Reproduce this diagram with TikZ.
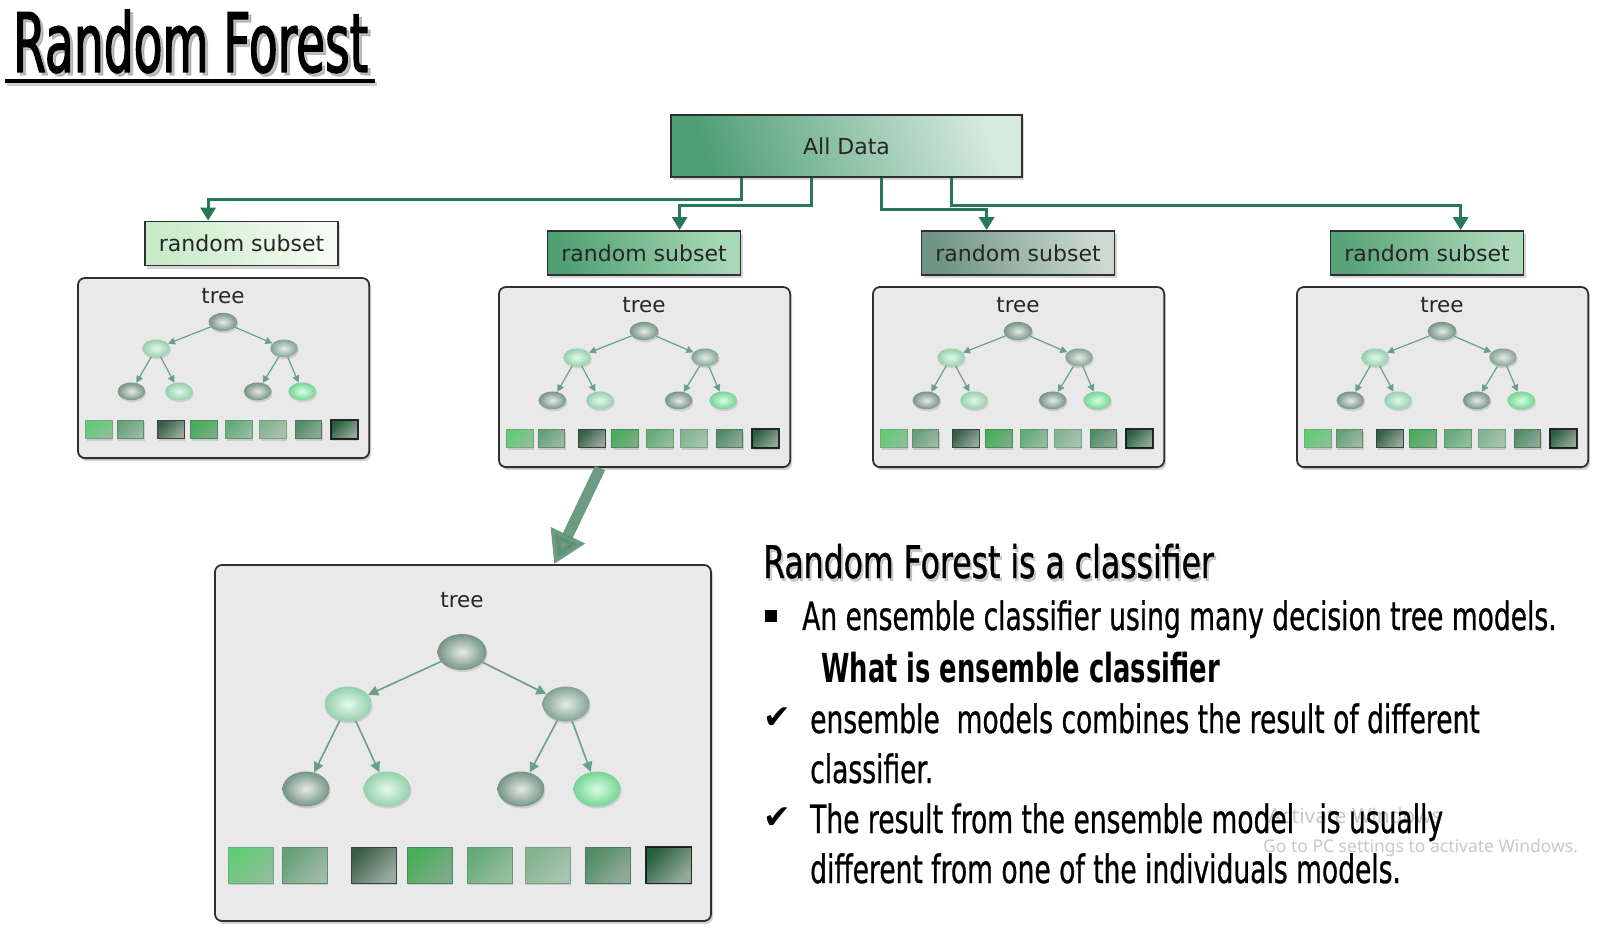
\documentclass[tikz,border=0pt]{standalone}
\usepackage{fontspec}
\setmainfont{DejaVu Sans}
\newfontfamily\agencyT[FakeStretch=0.575,FakeBold=1.5]{DejaVu Sans}
\newfontfamily\agencyH[FakeStretch=0.70,FakeBold=0.8]{DejaVu Sans}
\newfontfamily\agencyB[FakeStretch=0.68,FakeBold=0.7]{DejaVu Sans}
\newfontfamily\agencyBB[FakeStretch=0.645]{DejaVu Sans}
\newfontfamily\winfont{Noto Sans}
\usetikzlibrary{arrows.meta,shapes.geometric,shadows}

\definecolor{conngreen}{RGB}{38,120,86}
\definecolor{adDark}{RGB}{78,158,118}
\definecolor{adLight}{RGB}{214,234,221}
\definecolor{saD}{RGB}{200,235,200}\definecolor{saL}{RGB}{246,251,243}
\definecolor{sbD}{RGB}{80,160,115}\definecolor{sbL}{RGB}{168,216,183}
\definecolor{scD}{RGB}{112,148,132}\definecolor{scL}{RGB}{203,217,209}
\definecolor{sdD}{RGB}{88,164,120}\definecolor{sdL}{RGB}{172,216,186}
\definecolor{boxborder}{RGB}{45,50,48}
\definecolor{panelfill}{RGB}{233,233,233}
\definecolor{edgecol}{RGB}{105,160,138}
\definecolor{bigarrowcol}{RGB}{95,145,118}
\definecolor{wmark}{RGB}{200,200,200}
% balls
\definecolor{bGrayO}{RGB}{118,148,133}\definecolor{bGrayI}{RGB}{228,234,230}
\definecolor{bPaleO}{RGB}{148,208,172}\definecolor{bPaleI}{RGB}{228,249,236}
\definecolor{bMidO}{RGB}{132,163,148}\definecolor{bMidI}{RGB}{226,236,231}
\definecolor{bBrightO}{RGB}{118,212,148}\definecolor{bBrightI}{RGB}{214,255,226}
% squares
\definecolor{qa1}{RGB}{95,205,115}\definecolor{qb1}{RGB}{145,190,155}\definecolor{qd1}{RGB}{110,170,125}
\definecolor{qa2}{RGB}{100,160,120}\definecolor{qb2}{RGB}{160,185,168}\definecolor{qd2}{RGB}{95,140,110}
\definecolor{qa3}{RGB}{55,95,70}\definecolor{qb3}{RGB}{155,170,160}\definecolor{qd3}{RGB}{50,70,60}
\definecolor{qa4}{RGB}{70,175,90}\definecolor{qb4}{RGB}{125,170,135}\definecolor{qd4}{RGB}{70,140,90}
\definecolor{qa5}{RGB}{100,170,120}\definecolor{qb5}{RGB}{150,190,160}\definecolor{qd5}{RGB}{100,150,115}
\definecolor{qa6}{RGB}{130,180,145}\definecolor{qb6}{RGB}{170,195,175}\definecolor{qd6}{RGB}{120,160,135}
\definecolor{qa7}{RGB}{80,140,100}\definecolor{qb7}{RGB}{145,170,155}\definecolor{qd7}{RGB}{80,120,95}
\definecolor{qa8}{RGB}{40,95,60}\definecolor{qb8}{RGB}{150,170,155}\definecolor{qd8}{RGB}{20,30,25}

\tikzset{
  softshadow/.style={drop shadow={shadow xshift=2pt,shadow yshift=-3pt,opacity=0.28,fill=black!60}},
  databox/.style={draw=boxborder,line width=2pt,softshadow,
    top color=adLight,bottom color=adDark,shading angle=-70,
    minimum width=351pt,minimum height=62pt,inner sep=0pt,
    font=\fontsize{22}{26}\selectfont,text=black!85},
  subsetbox/.style={draw=boxborder,line width=1.8pt,softshadow,
    minimum width=193pt,minimum height=44pt,inner sep=0pt,
    font=\fontsize{22}{26}\selectfont,text=black!85},
  conn/.style={draw=conngreen,line width=3pt,-{Triangle[length=13pt,width=15pt]}},
  treebox/.style={draw=boxborder,line width=1.8pt,rounded corners=7pt,fill=panelfill,softshadow,inner sep=0pt},
  treelabel/.style={font=\fontsize{21.5}{24}\selectfont,text=black!85,inner sep=0pt},
  tnode/.style={ellipse,inner sep=0pt,drop shadow={shadow xshift=1pt,shadow yshift=-2pt,opacity=0.25}},
  ballgray/.style={inner color=bGrayI,outer color=bGrayO},
  ballpale/.style={inner color=bPaleI,outer color=bPaleO},
  ballmid/.style={inner color=bMidI,outer color=bMidO},
  ballbright/.style={inner color=bBrightI,outer color=bBrightO},
  edgeB/.style={draw=edgecol,line width=1.6pt,-{Triangle[length=10pt,width=10pt]}},
  edgeS/.style={draw=edgecol,line width=1.2pt,-{Triangle[length=7pt,width=7pt]}},
  sq/.style={inner sep=0pt,line width=1pt,drop shadow={shadow xshift=1pt,shadow yshift=-2pt,opacity=0.3}},
  bigarrow/.style={draw=bigarrowcol,opacity=0.9,line width=11pt,-{Triangle[length=32pt,width=36pt]}},
  agT/.style={font=\agencyT\fontsize{82}{90}\selectfont,anchor=base west,inner sep=0pt},
  agH/.style={font=\agencyH\fontsize{45}{50}\selectfont,anchor=base west,inner sep=0pt},
  agB/.style={font=\agencyB\fontsize{39}{46}\selectfont,anchor=base west,inner sep=0pt},
  agBB/.style={font=\agencyBB\bfseries\fontsize{40}{46}\selectfont,anchor=base west,inner sep=0pt},
  checkmk/.style={font=\fontsize{33}{36}\selectfont,anchor=base west,inner sep=0pt},
  wm/.style={font=\winfont,text=wmark,anchor=base west,inner sep=0pt}
}

% #1 name, #2 x, #3 y (top-left), #4 sx, #5 sy, #6 edge style
\newcommand{\treepanel}[6]{%
  \node[treebox,minimum width={496pt*#4},minimum height={356pt*#5}] (#1) at ({#2+248*#4},{#3+178*#5}) {};
  \node[treelabel] (#1-lab) at ({#2+247*#4},{#3+35*#5}) {tree};
  \node[tnode,ballgray,minimum width={49pt*#4},minimum height={36pt*#5}] (#1-r) at ({#2+247*#4},{#3+87*#5}) {};
  \node[tnode,ballpale,minimum width={47pt*#4},minimum height={35pt*#5}] (#1-a) at ({#2+133*#4},{#3+139*#5}) {};
  \node[tnode,ballmid,minimum width={47pt*#4},minimum height={35pt*#5}] (#1-b) at ({#2+351*#4},{#3+139*#5}) {};
  \node[tnode,ballgray,minimum width={47pt*#4},minimum height={35pt*#5}] (#1-c) at ({#2+91*#4},{#3+224*#5}) {};
  \node[tnode,ballpale,minimum width={47pt*#4},minimum height={35pt*#5}] (#1-d) at ({#2+172*#4},{#3+224*#5}) {};
  \node[tnode,ballgray,minimum width={47pt*#4},minimum height={35pt*#5}] (#1-e) at ({#2+306*#4},{#3+224*#5}) {};
  \node[tnode,ballbright,minimum width={47pt*#4},minimum height={35pt*#5}] (#1-f) at ({#2+382*#4},{#3+224*#5}) {};
  \draw[#6] (#1-r) -- (#1-a);
  \draw[#6] (#1-r) -- (#1-b);
  \draw[#6] (#1-a) -- (#1-c);
  \draw[#6] (#1-a) -- (#1-d);
  \draw[#6] (#1-b) -- (#1-e);
  \draw[#6] (#1-b) -- (#1-f);
  \foreach \cx/\ca/\cb/\cd [count=\i] in {35.5/qa1/qb1/qd1,89.5/qa2/qb2/qd2,158.5/qa3/qb3/qd3,214.5/qa4/qb4/qd4,274.5/qa5/qb5/qd5,332.5/qa6/qb6/qd6,392.5/qa7/qb7/qd7,453.5/qa8/qb8/qd8}{
    \node[sq,draw=\cd,top color=\ca,bottom color=\cb,shading angle=45,minimum width={45pt*#4},minimum height={36pt*#5}] (#1-s\i) at ({#2+\cx*#4},{#3+300*#5}) {};
  }
  \draw[line width=1.8pt,draw=black!85] (#1-s8.north west) rectangle (#1-s8.south east);
}

\begin{document}
\begin{tikzpicture}[x=1pt,y=-1pt]
\useasboundingbox (0,0) rectangle (1597,931);
\fill[white] (0,0) rectangle (1597,931);

% title
\node[agT,text=black!40,opacity=0.6] (titleshadow) at (16,75) {Random Forest};
\node[agT] (title) at (13,72) {Random Forest};
\draw[line width=4pt,black!30,opacity=0.6] (7,84) -- (377,84);
\draw[line width=4pt] (5,81) -- (375,81);

% top box and subsets
\node[databox] (ad) at (846.5,146) {All Data};
\node[subsetbox,top color=saL,bottom color=saD,shading angle=-70] (s1) at (241.5,243.5) {random subset};
\node[subsetbox,top color=sbL,bottom color=sbD,shading angle=-70] (s2) at (644,253) {random subset};
\node[subsetbox,top color=scL,bottom color=scD,shading angle=-70] (s3) at (1018,253) {random subset};
\node[subsetbox,top color=sdL,bottom color=sdD,shading angle=-70] (s4) at (1427,253) {random subset};

\draw[conn] ([xshift=71pt]ad.south west) -- ++(0,21) -| ([xshift=64pt]s1.north west);
\draw[conn] ([xshift=141pt]ad.south west) -- ++(0,27) -| ([xshift=133pt]s2.north west);
\draw[conn] ([xshift=211pt]ad.south west) -- ++(0,31) -| ([xshift=66pt]s3.north west);
\draw[conn] ([xshift=281pt]ad.south west) -- ++(0,27) -| ([xshift=131pt]s4.north west);

% tree panels
\treepanel{t1}{78}{278}{0.587}{0.506}{edgeS}
\treepanel{t2}{499}{287}{0.587}{0.506}{edgeS}
\treepanel{t3}{873}{287}{0.587}{0.506}{edgeS}
\treepanel{t4}{1297}{287}{0.587}{0.506}{edgeS}
\treepanel{big}{215}{565}{1}{1}{edgeB}

\draw[bigarrow] ([xshift=102pt]t2.south west) -- ([xshift=340pt]big.north west);

% watermark
\node[wm,font=\winfont\fontsize{21}{24}\selectfont] (wm1) at (1268,823) {Activate Windows};
\node[wm,font=\winfont\fontsize{17.5}{20}\selectfont] (wm2) at (1263,852) {Go to PC settings to activate Windows.};

% text
\node[agH,text=black!40,opacity=0.5] (headshadow) at (765,581) {Random Forest is a classifier};
\node[agH] (head) at (763,578) {Random Forest is a classifier};
\fill (765,610) rectangle (777,622);
\node[agB] (l1) at (802,630) {An ensemble classifier using many decision tree models.};
\node[agBB] (l2) at (821,682) {What is ensemble classifier};
\node[checkmk] (ck1) at (763,728) {✔};
\node[agB] (l3) at (810,733) {ensemble\ \ models combines the result of different};
\node[agB] (l4) at (810,783) {classifier.};
\node[checkmk] (ck2) at (763,828) {✔};
\node[agB] (l5) at (810,833) {The result from the ensemble model\ \ \ is usually};
\node[agB] (l6) at (810,883) {different from one of the individuals models.};
\end{tikzpicture}
\end{document}
